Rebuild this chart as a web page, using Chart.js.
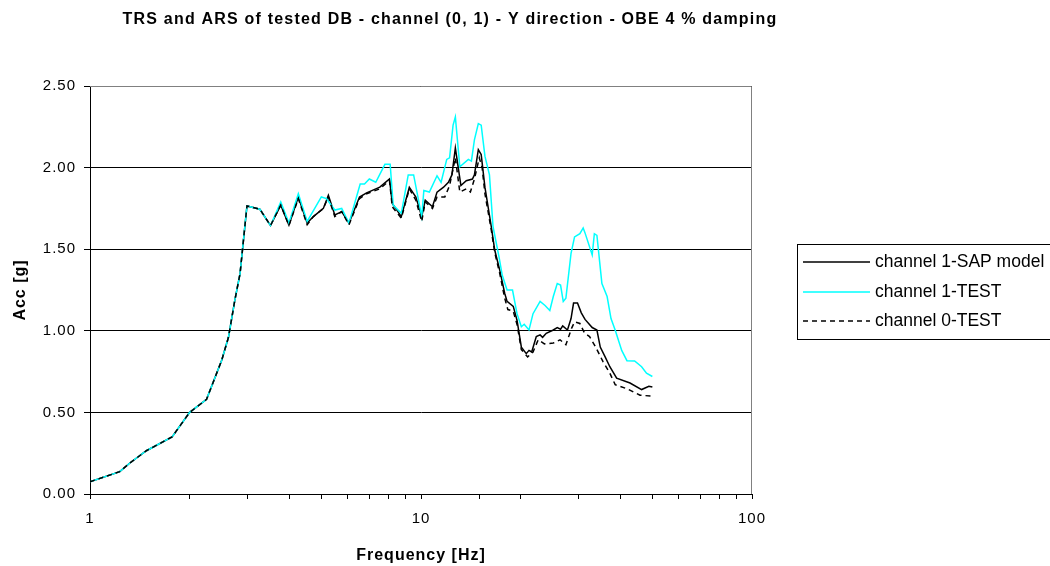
<!DOCTYPE html>
<html>
<head>
<meta charset="utf-8">
<script src="https://cdn.jsdelivr.net/npm/chart.js@4/dist/chart.umd.min.js"></script>
<style>
  html, body { margin: 0; padding: 0; background: #fff; }
  #wrap { width: 1050px; height: 566px; }
</style>
</head>
<body>
<div id="wrap"><canvas id="chart"></canvas></div>
<script>
// --- data (frequency in Hz, acceleration in g) ---
const sapFreq = [1.0, 1.23, 1.32, 1.48, 1.77, 2.0, 2.25, 2.5, 2.62, 2.74, 2.84, 2.98, 3.26, 3.51,
  3.77, 3.99, 4.26, 4.53, 4.73, 5.07, 5.25, 5.49, 5.76, 6.06, 6.52, 6.85, 7.51, 8.03, 8.19, 8.72,
  9.22, 9.65, 10.05, 10.3, 10.83, 11.18, 11.7, 12.1, 12.4, 12.7, 13.2, 13.7, 14.3, 14.5, 14.9,
  15.2, 15.6, 16.3, 16.7, 17.3, 17.9, 18.2, 19.0, 19.5, 20.1, 20.8, 21.2, 21.6, 22.3, 22.9, 23.3,
  23.9, 25.1, 25.8, 26.4, 26.8, 27.7, 28.4, 28.9, 29.7, 30.5, 31.3, 32.9, 34.0, 34.8, 36.0, 37.2,
  39.0, 42.8, 46.4, 48.8, 50.0];
const sapAcc = [0.075, 0.137, 0.19, 0.265, 0.35, 0.50, 0.58, 0.82, 0.96, 1.19, 1.35, 1.765, 1.745, 1.645,
  1.77, 1.648, 1.82, 1.66, 1.70, 1.75, 1.83, 1.71, 1.73, 1.66, 1.82, 1.845, 1.88, 1.93, 1.78, 1.70,
  1.88, 1.82, 1.70, 1.80, 1.76, 1.85, 1.88, 1.91, 1.955, 2.12, 1.89, 1.92, 1.93, 1.955, 2.11,
  2.08, 1.88, 1.64, 1.495, 1.37, 1.23, 1.18, 1.15, 1.065, 0.90, 0.86, 0.88, 0.87, 0.965, 0.975, 0.96,
  0.985, 1.005, 1.02, 1.01, 1.03, 1.005, 1.075, 1.17, 1.17, 1.11, 1.07, 1.02, 1.005, 0.90, 0.84, 0.78,
  0.71, 0.68, 0.64, 0.66, 0.655];

const test1Freq = [1.0, 1.23, 1.32, 1.48, 1.77, 2.0, 2.25, 2.5, 2.62, 2.74, 2.84, 2.98, 3.26, 3.51,
  3.77, 3.99, 4.26, 4.53, 5.0, 5.18, 5.49, 5.76, 6.06, 6.55, 6.75, 6.98, 7.3, 7.78, 8.07, 8.24,
  8.72, 9.15, 9.5, 10.05, 10.2, 10.6, 11.18, 11.5, 11.96, 12.2, 12.5, 12.7, 13.1, 13.9, 14.2,
  14.5, 14.9, 15.2, 15.6, 16.1, 16.5, 17.2, 17.6, 18.2, 18.9, 19.5, 20.1, 20.5, 21.2, 21.8, 22.9,
  23.7, 24.5, 25.1, 25.8, 26.4, 26.9, 27.4, 28.4, 29.1, 30.2, 30.9, 31.3, 32.9, 33.4, 34.0, 35.2,
  36.5, 37.5, 38.6, 40.4, 41.9, 44.2, 46.4, 48.0, 50.0];
const test1Acc = [0.075, 0.137, 0.19, 0.265, 0.35, 0.50, 0.58, 0.82, 0.96, 1.19, 1.35, 1.765, 1.745, 1.645,
  1.79, 1.66, 1.84, 1.67, 1.82, 1.81, 1.74, 1.75, 1.66, 1.90, 1.90, 1.93, 1.91, 2.02, 2.02, 1.77,
  1.72, 1.955, 1.955, 1.70, 1.86, 1.85, 1.95, 1.91, 2.05, 2.06, 2.26, 2.31, 2.005, 2.05, 2.04,
  2.17, 2.27, 2.26, 2.07, 1.955, 1.64, 1.455, 1.34, 1.25, 1.25, 1.105, 1.025, 1.04, 1.005, 1.105, 1.18,
  1.155, 1.125, 1.21, 1.29, 1.28, 1.18, 1.20, 1.475, 1.575, 1.595, 1.63, 1.60, 1.465, 1.595, 1.585, 1.29,
  1.21, 1.075, 1.005, 0.88, 0.817, 0.815, 0.78, 0.74, 0.72];

const test0Freq = [1.0, 1.23, 1.32, 1.48, 1.77, 2.0, 2.25, 2.5, 2.62, 2.74, 2.84, 2.98, 3.26, 3.51,
  3.77, 3.99, 4.26, 4.53, 4.73, 5.07, 5.25, 5.49, 5.76, 6.06, 6.52, 6.85, 7.51, 8.03, 8.19, 8.72,
  9.22, 9.65, 10.05, 10.3, 10.83, 11.18, 11.8, 12.2, 12.7, 13.1, 13.7, 14.1, 14.5, 15.0, 15.3,
  15.6, 16.3, 16.7, 17.3, 17.9, 18.3, 19.0, 19.5, 20.1, 21.0, 21.8, 22.6, 23.6, 25.1, 26.3, 27.4,
  28.5, 29.1, 30.2, 31.2, 32.3, 33.7, 35.5, 37.2, 38.6, 41.9, 45.9, 50.0];
const test0Acc = [0.075, 0.137, 0.19, 0.265, 0.35, 0.50, 0.58, 0.82, 0.96, 1.19, 1.35, 1.765, 1.745, 1.645,
  1.77, 1.645, 1.81, 1.65, 1.70, 1.75, 1.82, 1.70, 1.73, 1.65, 1.81, 1.84, 1.87, 1.92, 1.76, 1.69,
  1.87, 1.80, 1.67, 1.79, 1.75, 1.82, 1.82, 1.89, 2.06, 1.85, 1.87, 1.85, 1.93, 2.06, 2.00,
  1.84, 1.62, 1.48, 1.35, 1.20, 1.13, 1.12, 1.04, 0.885, 0.84, 0.87, 0.945, 0.92, 0.925, 0.945, 0.915,
  1.015, 1.055, 1.045, 0.985, 0.965, 0.90, 0.81, 0.74, 0.67, 0.645, 0.605, 0.60];

const seriesNames = ['channel 1-SAP model', 'channel 1-TEST', 'channel 0-TEST'];
const xLabels = [1, 10, 100];
const yTicks = [0, 0.5, 1.0, 1.5, 2.0, 2.5];

const FONT = '"Liberation Sans", Arial, sans-serif';

function pts(fs, vs) {
  return fs.map((f, i) => ({ x: f, y: vs[i] }));
}

// the Excel-style text is a bit wider than plain Arial
const spacing = {
  id: 'spacing',
  beforeDraw(chart) { chart.ctx.letterSpacing = '1px'; }
};

// title, plot frame and legend box
const decor = {
  id: 'decor',
  afterDraw(chart) {
    const ctx = chart.ctx;
    const a = chart.chartArea;
    ctx.save();
    // grey top/right frame
    ctx.strokeStyle = '#808080';
    ctx.lineWidth = 1;
    ctx.beginPath();
    ctx.moveTo(a.left, a.top + 0.5);
    ctx.lineTo(a.right - 0.5, a.top + 0.5);
    ctx.lineTo(a.right - 0.5, a.bottom);
    ctx.stroke();

    // title
    ctx.fillStyle = '#000';
    ctx.letterSpacing = '1.2px';
    ctx.font = 'bold 16px ' + FONT;
    ctx.textAlign = 'center';
    ctx.textBaseline = 'middle';
    ctx.fillText('TRS and ARS of tested DB - channel (0, 1) - Y direction - OBE 4 % damping', 450, 20);

    // legend
    ctx.letterSpacing = '0px';
    ctx.strokeStyle = '#000';
    ctx.strokeRect(797.5, 244.5, 260, 95);
    const styles = [
      { c: '#000000', d: [] },
      { c: '#00FFFF', d: [] },
      { c: '#000000', d: [5, 4] }
    ];
    const rows = [262, 292, 321];
    ctx.font = '17.5px ' + FONT;
    ctx.textAlign = 'left';
    seriesNames.forEach((n, i) => {
      ctx.strokeStyle = styles[i].c;
      ctx.lineWidth = 1.5;
      ctx.setLineDash(styles[i].d);
      ctx.beginPath();
      ctx.moveTo(803, rows[i]);
      ctx.lineTo(870, rows[i]);
      ctx.stroke();
      ctx.setLineDash([]);
      ctx.fillStyle = '#000';
      ctx.fillText(n, 875, rows[i]);
    });
    ctx.restore();
  }
};

new Chart(document.getElementById('chart'), {
  type: 'scatter',
  data: {
    datasets: [
      { label: seriesNames[0], data: pts(sapFreq, sapAcc), borderColor: '#000000', borderWidth: 1.5, order: 2 },
      { label: seriesNames[1], data: pts(test1Freq, test1Acc), borderColor: '#00FFFF', borderWidth: 1.5, order: 1 },
      { label: seriesNames[2], data: pts(test0Freq, test0Acc), borderColor: '#000000', borderWidth: 1.5, borderDash: [5, 4], order: 0 }
    ].map(d => Object.assign(d, { showLine: true, pointRadius: 0, tension: 0, fill: false }))
  },
  options: {
    responsive: true,
    maintainAspectRatio: false,
    animation: false,
    layout: { padding: { left: 0, top: 86, right: 298, bottom: 0 } },
    plugins: {
      legend: { display: false },
      title: { display: false },
      tooltip: { enabled: false }
    },
    scales: {
      x: {
        type: 'logarithmic',
        min: 1,
        max: 100,
        afterFit(s) { s.height = 72; },
        border: { color: '#000', width: 1 },
        grid: { drawOnChartArea: false, drawTicks: true, tickLength: 5, color: '#000' },
        ticks: {
          autoSkip: false,
          maxRotation: 0,
          padding: 11,
          color: '#000',
          font: { family: FONT, size: 15 },
          callback: (v) => xLabels.includes(v) ? String(v) : ''
        },
        title: {
          display: true,
          text: 'Frequency [Hz]',
          color: '#000',
          font: { family: FONT, size: 16, weight: 'bold' },
          padding: { top: 0, bottom: 1 }
        }
      },
      y: {
        min: 0,
        max: 2.5,
        afterFit(s) { s.width = 90; },
        afterBuildTicks(s) { s.ticks = yTicks.map(v => ({ value: v })); },
        border: { color: '#000', width: 1 },
        grid: { color: '#000', lineWidth: 1, tickLength: 6, drawTicks: true },
        ticks: {
          padding: 8,
          color: '#000',
          font: { family: FONT, size: 15 },
          callback: (v) => Number(v).toFixed(2)
        },
        title: {
          display: true,
          text: 'Acc [g]',
          color: '#000',
          font: { family: FONT, size: 16, weight: 'bold' },
          padding: { top: 11, bottom: 0 }
        }
      }
    }
  },
  plugins: [spacing, decor]
});
</script>
</body>
</html>
